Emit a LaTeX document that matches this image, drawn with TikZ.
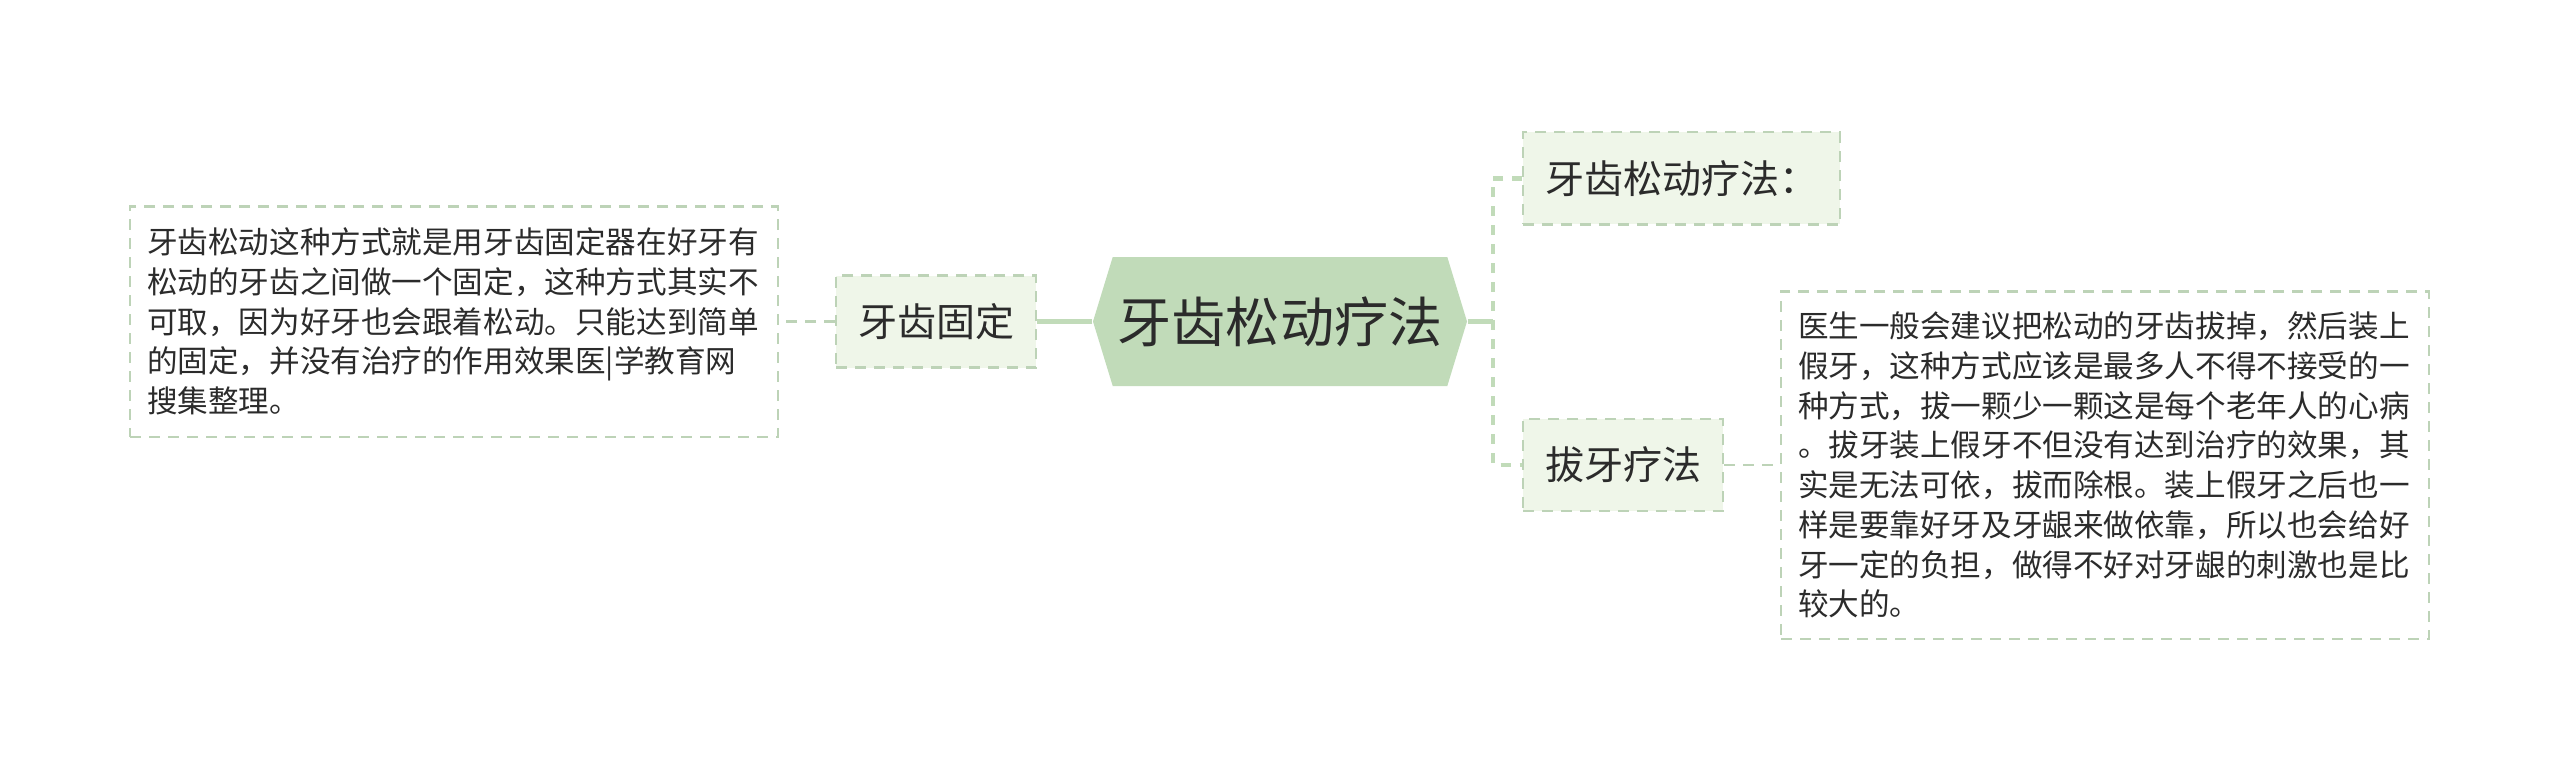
\documentclass[tikz,border=0pt]{standalone}
\usepackage{fontspec}
\newfontfamily\cjk{Noto Sans CJK SC}
\usetikzlibrary{positioning, shapes.symbols}
\definecolor{rootgreen}{HTML}{C1DBB9}
\definecolor{leafgreen}{HTML}{EFF6E9}
\definecolor{edgegreen}{HTML}{BDD3B7}
\definecolor{inkgray}{HTML}{2B2B2B}
\tikzset{
  root/.style    = {shape=signal, signal to=west and east, signal pointer angle=146,
                    fill=rootgreen, text=inkgray, inner sep=0pt,
                    font=\cjk\fontsize{15.4pt}{18pt}\selectfont,
                    minimum width=3.74cm, minimum height=1.29cm},
  topic/.style   = {draw=edgegreen, dash pattern=on 1.1mm off 0.8mm, line width=0.57pt,
                    fill=leafgreen, text=inkgray, inner xsep=0.22cm, inner ysep=0pt,
                    font=\cjk\fontsize{11.1pt}{13pt}\selectfont,
                    minimum height=0.92cm},
  note/.style    = {draw=edgegreen, dash pattern=on 1.1mm off 0.8mm, line width=0.57pt,
                    fill=white, text=inkgray, align=left, text width=6.14cm,
                    inner xsep=0.17cm, inner ysep=0pt,
                    font=\cjk\fontsize{8.7pt}{11.3pt}\selectfont},
  % connectors
  trunk/.style   = {-, line width=1.14pt, rootgreen},
  busline/.style = {-, line width=1.14pt, rootgreen, dash pattern=on 1mm off 0.9mm},
  twig/.style    = {-, line width=0.57pt, edgegreen, dash pattern=on 1.1mm off 0.8mm},
}

\begin{document}
\begin{tikzpicture}
\useasboundingbox (0,0) rectangle (25.6,7.73);
\fill[white] (0,0) rectangle (25.6,7.73);

% ===== centre =====
\node[root] (root) at (12.80,4.515) {牙齿松动疗法};

% ===== left branch =====
\node[topic, left=0.55cm of root] (fix) {牙齿固定};
\node[note, left=0.56cm of fix, minimum height=2.30cm] (fixnote)
  {牙齿松动这种方式就是用牙齿固定器在好牙有\\
   松动的牙齿之间做一个固定，这种方式其实不\\
   可取，因为好牙也会跟着松动。只能达到简单\\
   的固定，并没有治疗的作用效果医|学教育网\\
   搜集整理。};

% ===== right branch =====
\coordinate (bus) at (14.93,4.515);
\node[topic, anchor=west] (tech)    at (15.22,5.945) {牙齿松动疗法：};
\node[topic, anchor=west] (extract) at (15.22,3.08)  {拔牙疗法};
\node[note, right=0.56cm of extract, minimum height=3.47cm] (extractnote)
  {医生一般会建议把松动的牙齿拔掉，然后装上\\
   假牙，这种方式应该是最多人不得不接受的一\\
   种方式，拔一颗少一颗这是每个老年人的心病\\
   。拔牙装上假牙不但没有达到治疗的效果，其\\
   实是无法可依，拔而除根。装上假牙之后也一\\
   样是要靠好牙及牙龈来做依靠，所以也会给好\\
   牙一定的负担，做得不好对牙龈的刺激也是比\\
   较大的。};

% ===== connectors =====
\draw[trunk] (root.west) -- (fix.east);
\draw[twig] (fix.west) -- (fixnote.east);
\draw[trunk] (root.east) -- (bus);
\draw[busline] (tech.west) -| (bus) |- (extract.west);
\draw[twig] (extract.east) -- (extractnote.west);

\end{tikzpicture}
\end{document}
